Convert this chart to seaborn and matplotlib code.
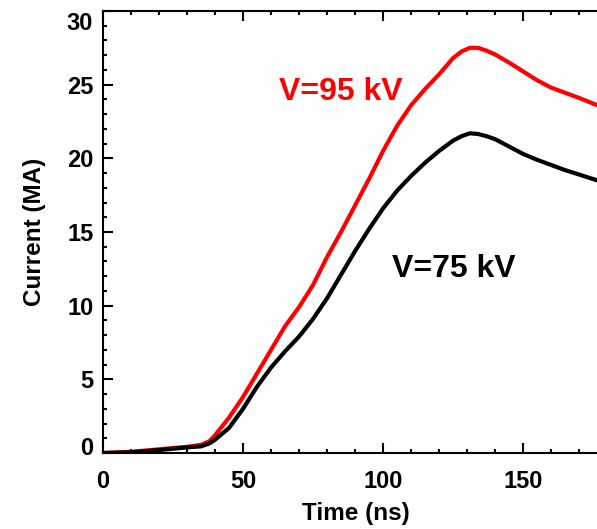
import matplotlib
matplotlib.use("Agg")
import matplotlib.pyplot as plt
import matplotlib.transforms as mtransforms
from matplotlib.ticker import MultipleLocator, FixedLocator
import numpy as np
import pandas as pd
import seaborn as sns

# Load current waveforms for two charging voltages
time_ns = [0, 10, 20, 30, 35, 38, 40, 45, 50, 55, 60, 65, 70, 75, 80, 85, 90,
           95, 100, 105, 110, 115, 120, 125, 128, 131, 134, 137, 140, 145, 150,
           155, 160, 165, 170, 176.5]
current_95kv = [0.0, 0.08, 0.25, 0.42, 0.55, 0.8, 1.2, 2.4, 3.8, 5.4, 7.0, 8.6,
                9.9, 11.4, 13.3, 15.0, 16.8, 18.6, 20.5, 22.2, 23.6, 24.7, 25.7,
                26.8, 27.25, 27.5, 27.5, 27.3, 27.05, 26.5, 25.9, 25.3, 24.8,
                24.45, 24.1, 23.6]
current_75kv = [0.0, 0.05, 0.2, 0.38, 0.45, 0.65, 0.9, 1.7, 3.0, 4.5, 5.8, 6.9,
                7.9, 9.1, 10.5, 12.1, 13.7, 15.2, 16.6, 17.8, 18.8, 19.7, 20.5,
                21.2, 21.5, 21.7, 21.65, 21.5, 21.3, 20.8, 20.3, 19.9, 19.55,
                19.2, 18.9, 18.5]
series_labels = ["V=95 kV", "V=75 kV"]
series_colors = ["#ff0000", "#000000"]
y_ticks = [0, 5, 10, 15, 20, 25, 30]
x_ticks = [0, 50, 100, 150]

df = pd.DataFrame({
    "Time (ns)": time_ns * 2,
    "Current (MA)": current_95kv + current_75kv,
    "Voltage": [series_labels[0]] * len(time_ns) + [series_labels[1]] * len(time_ns),
})

sns.set_style("ticks")
plt.rcParams["font.family"] = ["Liberation Sans", "DejaVu Sans"]
plt.rcParams["font.weight"] = "bold"
plt.rcParams["text.color"] = "black"
plt.rcParams["axes.labelcolor"] = "black"
plt.rcParams["xtick.color"] = "black"
plt.rcParams["ytick.color"] = "black"
plt.rcParams["axes.edgecolor"] = "black"

fig = plt.figure(figsize=(5.97, 5.29), dpi=100)
ax = fig.add_axes([103 / 597, 76 / 529, (597 - 103) / 597, (453 - 11) / 529])

sns.lineplot(data=df, x="Time (ns)", y="Current (MA)", hue="Voltage",
             hue_order=series_labels, palette=series_colors, linewidth=3.0,
             legend=False, ax=ax)

ax.set_xlim(0, 176.4)
ax.set_ylim(0, 30)
ax.xaxis.set_major_locator(FixedLocator(x_ticks))
ax.xaxis.set_minor_locator(MultipleLocator(10))
ax.yaxis.set_major_locator(FixedLocator(y_ticks))
ax.yaxis.set_minor_locator(MultipleLocator(1))

for side in ["left", "top", "bottom"]:
    ax.spines[side].set_linewidth(1.5)
    ax.spines[side].set_color("black")
ax.spines["right"].set_visible(False)

ax.tick_params(which="both", direction="in", top=True, right=False,
               width=1.5, color="black", labelcolor="black")
ax.tick_params(which="major", length=7.2)
ax.tick_params(which="minor", length=3.2)
ax.tick_params(axis="x", which="major", pad=12, labelsize=17)
ax.tick_params(axis="y", which="major", pad=7, labelsize=17)
for lab in ax.get_xticklabels() + ax.get_yticklabels():
    lab.set_fontweight("bold")

ax.set_xlabel("Time (ns)", fontsize=17.5, fontweight="bold", color="black")
ax.set_ylabel("Current (MA)", fontsize=17.5, fontweight="bold", color="black")
ax.xaxis.set_label_coords((356 - 103) / 494, (453 - 502) / 442)
ax.yaxis.set_label_coords((46 - 103) / 494, 0.5)

ax.text(84.8, 23.96, series_labels[0], color=series_colors[0], fontsize=23,
        fontweight="bold", ha="center", va="baseline")
ax.text(125.4, 11.95, series_labels[1], color=series_colors[1], fontsize=23,
        fontweight="bold", ha="center", va="baseline")

# Pull the end labels of the y axis inward, off the corners
yt = ax.yaxis.get_major_ticks()
shift_up = mtransforms.ScaledTranslation(0, 7 / 100, fig.dpi_scale_trans)
shift_dn = mtransforms.ScaledTranslation(0, -9.5 / 100, fig.dpi_scale_trans)
yt[0].label1.set_transform(yt[0].label1.get_transform() + shift_up)
yt[-1].label1.set_transform(yt[-1].label1.get_transform() + shift_dn)

fig.savefig("out.png", dpi=100, facecolor="white")
